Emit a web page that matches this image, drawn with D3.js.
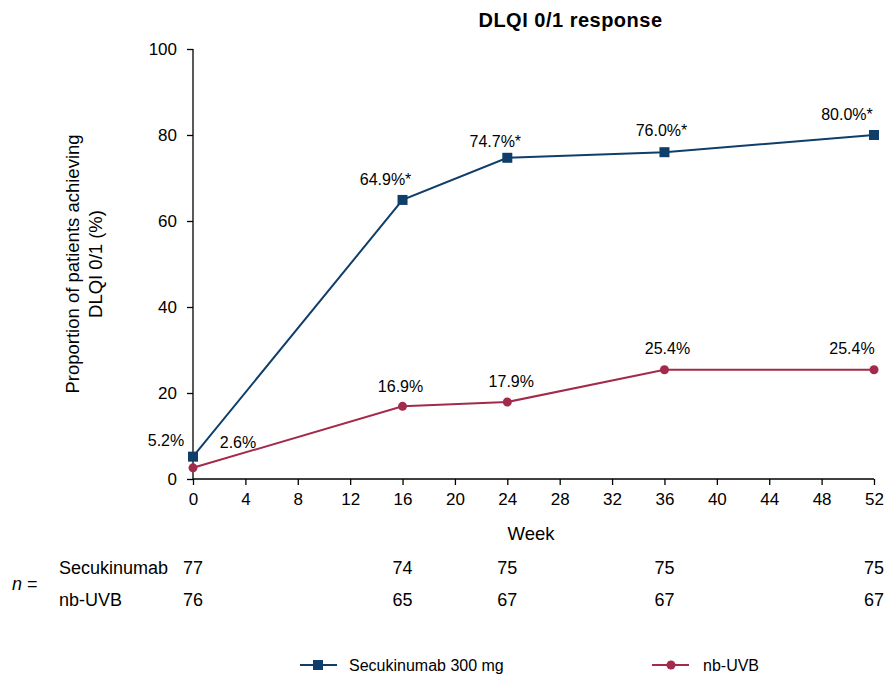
<!DOCTYPE html>
<html><head><meta charset="utf-8">
<script src="https://cdn.jsdelivr.net/npm/d3@7"></script>
<style>body{margin:0;background:#fff}svg{display:block;font-family:"Liberation Sans",Arial,Helvetica,sans-serif}</style>
</head><body><svg id="c" width="884" height="676"></svg>
<script>
const weeks = [0, 16, 24, 36, 52];
const secValues = [5.2, 64.9, 74.7, 76.0, 80.0];
const secLabels = ["5.2%", "64.9%*", "74.7%*", "76.0%*", "80.0%*"];
const uvbValues = [2.6, 16.9, 17.9, 25.4, 25.4];
const uvbLabels = ["2.6%", "16.9%", "17.9%", "25.4%", "25.4%"];
const secN = [77, 74, 75, 75, 75];
const uvbN = [76, 65, 67, 67, 67];
const xTicks = [0,4,8,12,16,20,24,28,32,36,40,44,48,52];
const yTicks = [0,20,40,60,80,100];
const seriesNames = ["Secukinumab 300 mg", "nb-UVB"];
const rowNames = ["Secukinumab", "nb-UVB"];

const blue = "#0f3e6b", red = "#a42a4b";
const svg = d3.select("#c");
const x = d3.scaleLinear().domain([0,52]).range([193,874]);
const y = d3.scaleLinear().domain([0,100]).range([479,49]);

svg.append("text").attr("x",570.5).attr("y",27).attr("text-anchor","middle")
  .attr("font-size",20).attr("letter-spacing",0.5).attr("font-weight","bold").text("DLQI 0/1 response");

const ya = svg.append("g").attr("transform","translate(193,0)")
  .call(d3.axisLeft(y).tickValues(yTicks).tickSize(6).tickPadding(10));
const xa = svg.append("g").attr("transform","translate(0,479)")
  .call(d3.axisBottom(x).tickValues(xTicks).tickSize(6).tickPadding(8));
[ya,xa].forEach(a=>{a.select(".domain").attr("stroke","#000").attr("stroke-width",1.3);
  a.selectAll(".tick line").attr("stroke","#000").attr("stroke-width",1.3);
  a.selectAll("text").attr("font-size",17).attr("fill","#000").attr("font-family","Liberation Sans, Arial, sans-serif");});
ya.select(".domain").attr("d","M0,479V49");
xa.select(".domain").attr("d","M193,0H874");

svg.append("text").attr("x",531).attr("y",540).attr("text-anchor","middle").attr("font-size",18.5).text("Week");
const yt = svg.append("text").attr("transform","translate(79,264) rotate(-90)").attr("text-anchor","middle").attr("font-size",18.5);
yt.append("tspan").attr("x",0).attr("dy",0).text("Proportion of patients achieving");
yt.append("tspan").attr("x",0).attr("dy",23).text("DLQI 0/1 (%)");

const line = d3.line().x(d=>x(d[0])).y(d=>y(d[1]));
const sec = weeks.map((w,i)=>[w,secValues[i]]);
const uvb = weeks.map((w,i)=>[w,uvbValues[i]]);
svg.append("path").datum(uvb).attr("d",line).attr("fill","none").attr("stroke",red).attr("stroke-width",2);
svg.append("path").datum(sec).attr("d",line).attr("fill","none").attr("stroke",blue).attr("stroke-width",2);
svg.selectAll(".uvbpt").data(uvb).enter().append("circle").attr("cx",d=>x(d[0])).attr("cy",d=>y(d[1])).attr("r",4.5).attr("fill",red);
svg.selectAll(".secpt").data(sec).enter().append("rect").attr("x",d=>x(d[0])-5).attr("y",d=>y(d[1])-5).attr("width",10).attr("height",10).attr("fill",blue);

// data labels
const secOff = [[-27,-11],[-17,-15],[-12,-11],[-3,-16],[-27,-15]];
const uvbOff = [[45,-20],[-2,-14],[4,-15],[3,-16],[-22,-16]];
svg.selectAll(".sl").data(sec).enter().append("text")
  .attr("x",(d,i)=>x(d[0])+secOff[i][0]).attr("y",(d,i)=>y(d[1])+secOff[i][1])
  .attr("text-anchor","middle").attr("font-size",16).text((d,i)=>secLabels[i]);
svg.selectAll(".ul").data(uvb).enter().append("text")
  .attr("x",(d,i)=>x(d[0])+uvbOff[i][0]).attr("y",(d,i)=>y(d[1])+uvbOff[i][1])
  .attr("text-anchor","middle").attr("font-size",16).text((d,i)=>uvbLabels[i]);

// n table
const nt = svg.append("text").attr("x",12).attr("y",590).attr("font-size",18);
nt.append("tspan").attr("font-style","italic").text("n");
nt.append("tspan").text(" =");
svg.append("text").attr("x",59).attr("y",574).attr("font-size",18).text(rowNames[0]);
svg.append("text").attr("x",59).attr("y",606).attr("font-size",18).text(rowNames[1]);
svg.selectAll(".n1").data(secN).enter().append("text").attr("x",(d,i)=>x(weeks[i])).attr("y",574)
  .attr("text-anchor","middle").attr("font-size",18).text(d=>d);
svg.selectAll(".n2").data(uvbN).enter().append("text").attr("x",(d,i)=>x(weeks[i])).attr("y",606)
  .attr("text-anchor","middle").attr("font-size",18).text(d=>d);

// legend
const lg = [{x:300,c:blue,shape:"sq"},{x:652,c:red,shape:"ci"}];
lg.forEach((l,i)=>{
  const g = svg.append("g").attr("transform",`translate(${l.x},665)`);
  g.append("line").attr("x1",0).attr("x2",37).attr("stroke",l.c).attr("stroke-width",2);
  if(l.shape==="sq") g.append("rect").attr("x",13).attr("y",-5).attr("width",10).attr("height",10).attr("fill",l.c);
  else g.append("circle").attr("cx",19).attr("r",4.5).attr("fill",l.c);
  g.append("text").attr("x",l.shape==="sq"?49:51).attr("y",6).attr("font-size",16).text(seriesNames[i]);
});
</script></body></html>
